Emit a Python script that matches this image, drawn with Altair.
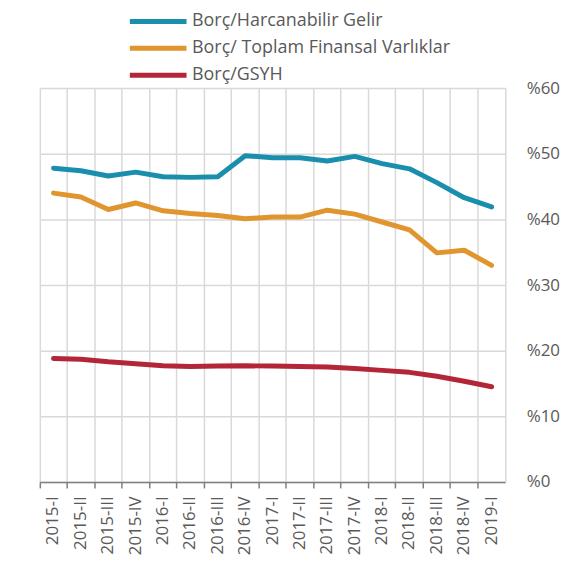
import altair as alt
import pandas as pd

quarters = ["2015-I", "2015-II", "2015-III", "2015-IV",
            "2016-I", "2016-II", "2016-III", "2016-IV",
            "2017-I", "2017-II", "2017-III", "2017-IV",
            "2018-I", "2018-II", "2018-III", "2018-IV",
            "2019-I"]

series_names = ["Borç/Harcanabilir Gelir", "Borç/ Toplam Finansal Varlıklar", "Borç/GSYH"]

harcanabilir = [47.8, 47.4, 46.6, 47.2, 46.5, 46.4, 46.5, 49.7, 49.4, 49.4, 48.9, 49.6, 48.5, 47.7, 45.6, 43.3, 41.9]
finansal = [44.0, 43.4, 41.5, 42.5, 41.3, 40.9, 40.6, 40.1, 40.35, 40.35, 41.4, 40.8, 39.6, 38.4, 34.9, 35.3, 33.0]
gsyh = [18.8, 18.7, 18.3, 18.0, 17.7, 17.6, 17.65, 17.7, 17.65, 17.6, 17.5, 17.3, 17.0, 16.7, 16.1, 15.35, 14.5]

colors = ["#1A8FAD", "#E0952F", "#B32638"]

rows = []
for name, vals in zip(series_names, [harcanabilir, finansal, gsyh]):
    for q, v in zip(quarters, vals):
        rows.append({"q": q, "v": v, "s": name})
df = pd.DataFrame(rows)

FONT = "Open Sans"
GRAY = "#595959"

chart = alt.Chart(df).mark_line(strokeWidth=5, strokeCap="round", strokeJoin="round").encode(
    x=alt.X("q:N", sort=quarters, bandPosition=0.5,
            scale=alt.Scale(type="band", paddingInner=0, paddingOuter=0),
            axis=alt.Axis(title=None, labelAngle=-90, bandPosition=0, grid=True,
                          gridColor="#D9D9D9", gridWidth=1.5,
                          domainColor="#7F7F7F", domainWidth=1.5,
                          tickColor="#7F7F7F", tickSize=6, tickWidth=1.5,
                          labelPadding=8, labelFont=FONT, labelFontSize=17,
                          labelColor=GRAY, labelAlign="right", labelBaseline="middle")),
    y=alt.Y("v:Q", scale=alt.Scale(domain=[0, 60]),
            axis=alt.Axis(title=None, orient="right", values=[0, 10, 20, 30, 40, 50, 60],
                          labelExpr="'%' + datum.value", grid=True,
                          gridColor="#D9D9D9", gridWidth=1.5,
                          domain=True, domainColor="#D9D9D9", domainWidth=1.5,
                          ticks=False, labelPadding=21, labelFont=FONT,
                          labelFontSize=17, labelColor=GRAY)),
    color=alt.Color("s:N", scale=alt.Scale(domain=series_names, range=colors),
                    legend=alt.Legend(title=None, orient="none", legendX=108, legendY=-78,
                                      symbolType="M-3.5,0H3.5", symbolSize=265,
                                      symbolStrokeWidth=5, labelOffset=23, labelLimit=500,
                                      labelFont=FONT, labelFontSize=18, labelColor=GRAY,
                                      rowPadding=6, padding=0)),
).properties(
    width=468, height=396,
    autosize=alt.AutoSizeParams(type="none"),
    padding={"left": 32, "top": 79, "right": 60, "bottom": 90},
).configure_view(stroke=None)

chart.save("out.html", embed_options={"renderer": "svg", "actions": False})
